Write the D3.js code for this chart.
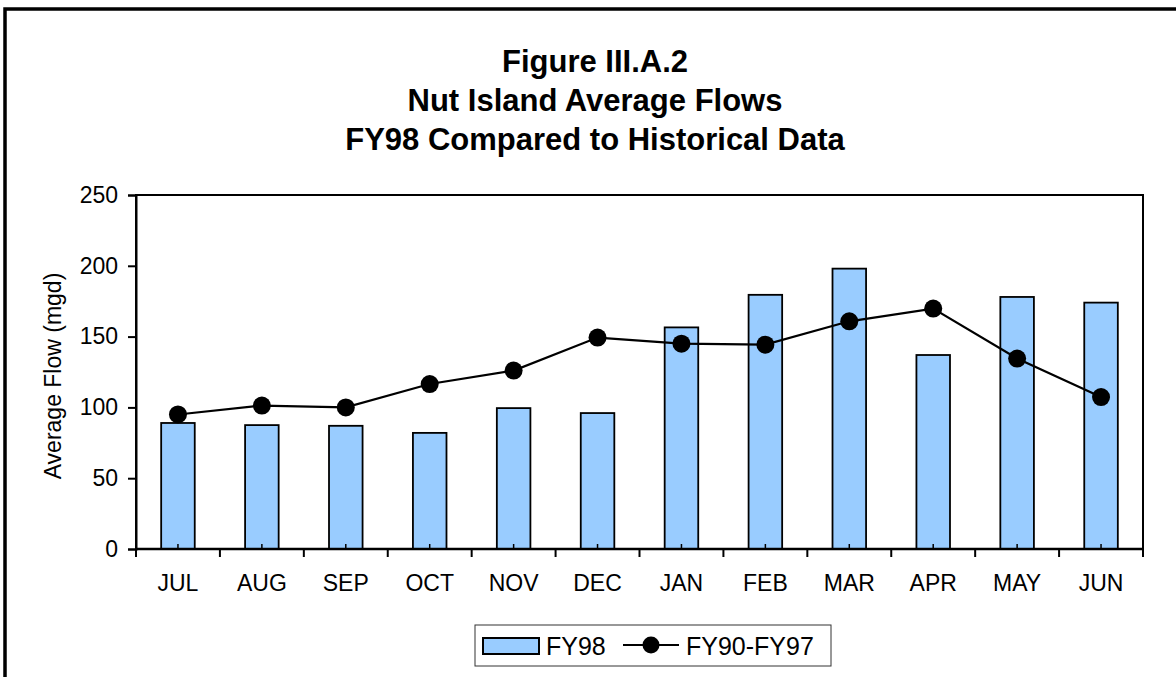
<!DOCTYPE html>
<html>
<head>
<meta charset="utf-8">
<script src="https://cdn.jsdelivr.net/npm/d3@7"></script>
<style>
  body { margin: 0; background: #fff; }
  text { font-family: Arial, "Liberation Sans", sans-serif; fill: #000; }
</style>
</head>
<body>
<div id="chart"></div>
<script>
// data
var months = ["JUL","AUG","SEP","OCT","NOV","DEC","JAN","FEB","MAR","APR","MAY","JUN"];
var fy98 = [89, 87.5, 87, 82, 99.5, 96, 156.5, 179.5, 198, 137, 178, 174];
var historical = [95, 101.3, 100, 116.5, 126, 149.3, 145, 144.3, 160.8, 169.8, 134.5, 107.3];
var yTicks = [0, 50, 100, 150, 200, 250];
var titleLines = ["Figure III.A.2", "Nut Island Average Flows", "FY98 Compared to Historical Data"];

var width = 1176, height = 677;
var margin = {left: 136, right: 33, top: 195, bottom: 128};

var svg = d3.select("#chart").append("svg").attr("width", width).attr("height", height);

// outer chart border (right and bottom edges fall outside the picture)
svg.append("rect")
    .attr("x", 5).attr("y", 9)
    .attr("width", width + 20).attr("height", height + 20)
    .attr("fill", "none").attr("stroke", "#000").attr("stroke-width", 3.5);

// title
svg.append("g").selectAll("text")
    .data(titleLines)
    .enter().append("text")
    .attr("x", 595)
    .attr("y", function(d, i){ return 72 + i * 39; })
    .attr("text-anchor", "middle")
    .style("font-size", "31px")
    .style("font-weight", "bold")
    .text(function(d){ return d; });

var x = d3.scaleBand().domain(months)
    .range([margin.left, width - margin.right])
    .paddingInner(0.6).paddingOuter(0.3);
var y = d3.scaleLinear().domain([0, 250]).range([height - margin.bottom, margin.top]);

var plot = svg.append("g");

// plot area frame
plot.append("rect")
    .attr("x", margin.left).attr("y", y(250))
    .attr("width", width - margin.right - margin.left)
    .attr("height", y(0) - y(250))
    .attr("fill", "none").attr("stroke", "#000").attr("stroke-width", 2);

// bars
plot.selectAll(".bar")
    .data(fy98)
    .enter().append("rect")
    .attr("class", "bar")
    .attr("x", function(d, i){ return x(months[i]); })
    .attr("y", function(d){ return y(d); })
    .attr("width", x.bandwidth())
    .attr("height", function(d){ return y(0) - y(d); })
    .attr("fill", "#99CCFF")
    .attr("stroke", "#000").attr("stroke-width", 1.8);

var cx = function(i){ return x(months[i]) + x.bandwidth() / 2; };

// little marks at category centres
plot.selectAll(".cmark")
    .data(months)
    .enter().append("line")
    .attr("x1", function(d, i){ return cx(i); })
    .attr("x2", function(d, i){ return cx(i); })
    .attr("y1", y(0)).attr("y2", y(0) - 5)
    .attr("stroke", "#000").attr("stroke-width", 1.5);

// y axis
var yAxis = d3.axisLeft(y).tickValues(yTicks).tickSize(8).tickPadding(10);
var gy = svg.append("g").attr("transform", "translate(" + margin.left + ",0)").call(yAxis);
gy.select(".domain").attr("stroke-width", 2);
gy.selectAll(".tick line").attr("stroke-width", 2);
gy.selectAll("text").style("font-size", "23px").attr("font-family", null);

// x axis: ticks at the band boundaries
var xEdges = d3.range(months.length + 1).map(function(i){ return margin.left + i * (width - margin.right - margin.left) / months.length; });
var xBound = svg.append("g");
xBound.append("line")
    .attr("x1", margin.left).attr("x2", width - margin.right)
    .attr("y1", y(0)).attr("y2", y(0))
    .attr("stroke", "#000").attr("stroke-width", 2.5);
xBound.selectAll(".edge")
    .data(xEdges)
    .enter().append("line")
    .attr("x1", function(d){ return d; }).attr("x2", function(d){ return d; })
    .attr("y1", y(0)).attr("y2", y(0) + 8)
    .attr("stroke", "#000").attr("stroke-width", 2);
xBound.selectAll(".mlabel")
    .data(months)
    .enter().append("text")
    .attr("x", function(d, i){ return cx(i); })
    .attr("y", 591)
    .attr("text-anchor", "middle")
    .style("font-size", "23px")
    .text(function(d){ return d; });

// y axis title
svg.append("text")
    .attr("transform", "translate(61,376) rotate(-90)")
    .attr("text-anchor", "middle")
    .style("font-size", "23px")
    .text("Average Flow (mgd)");

// historical line
var line = d3.line()
    .x(function(d, i){ return cx(i); })
    .y(function(d){ return y(d); });
plot.append("path")
    .datum(historical)
    .attr("d", line)
    .attr("fill", "none").attr("stroke", "#000").attr("stroke-width", 2.2);
plot.selectAll(".dot")
    .data(historical)
    .enter().append("circle")
    .attr("cx", function(d, i){ return cx(i); })
    .attr("cy", function(d){ return y(d); })
    .attr("r", 9)
    .attr("fill", "#000");

// legend
var legend = svg.append("g").attr("transform", "translate(475,625)");
legend.append("rect")
    .attr("width", 356).attr("height", 41)
    .attr("fill", "#fff").attr("stroke", "#333").attr("stroke-width", 1);
legend.append("rect")
    .attr("x", 8).attr("y", 13).attr("width", 56).attr("height", 16)
    .attr("fill", "#99CCFF").attr("stroke", "#000").attr("stroke-width", 2);
legend.append("text").attr("x", 71).attr("y", 30).style("font-size", "25px").text("FY98");
legend.append("line")
    .attr("x1", 148).attr("x2", 204).attr("y1", 20).attr("y2", 20)
    .attr("stroke", "#000").attr("stroke-width", 2);
legend.append("circle").attr("cx", 176).attr("cy", 20).attr("r", 8.5).attr("fill", "#000");
legend.append("text").attr("x", 211).attr("y", 30).style("font-size", "25px").text("FY90-FY97");
</script>
</body>
</html>
